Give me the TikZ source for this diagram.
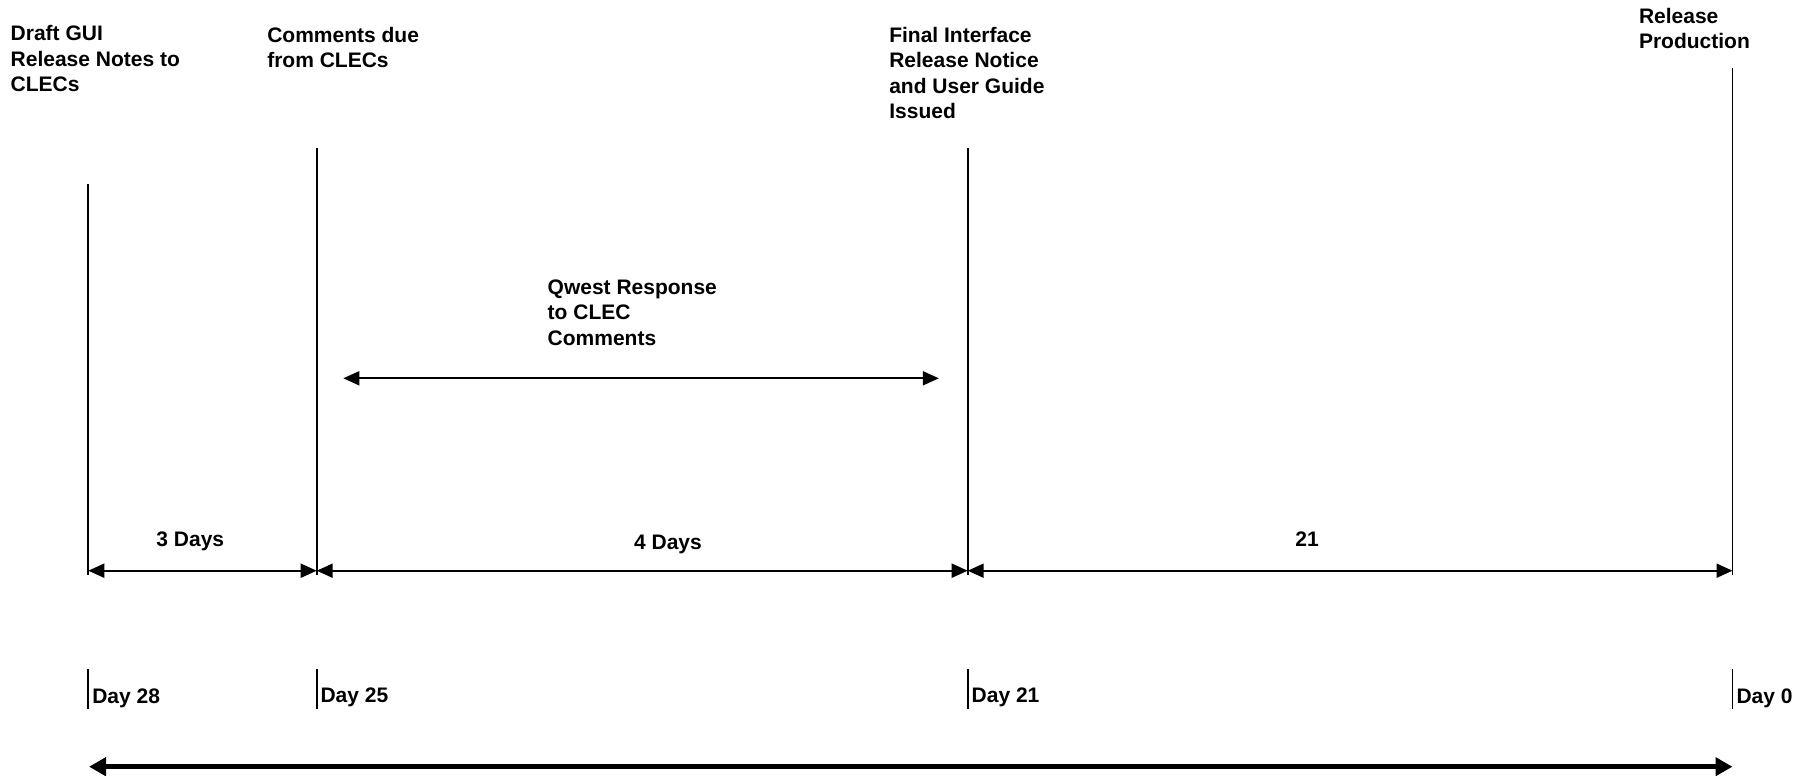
\documentclass[tikz,border=0pt]{standalone}
\usepackage{fontspec}
\setmainfont{Liberation Sans}
\usetikzlibrary{arrows.meta}
\begin{document}
\begin{tikzpicture}[x=1pt,y=-1pt,
  lbl/.style={inner sep=0pt, outer sep=0pt, font=\bfseries\fontsize{21}{25.3}\selectfont, align=left},
  rulestroke/.style={line width=1.9pt, line cap=butt},
  dimarrow/.style={line width=1.9pt, {Triangle[length=16pt,width=14pt]}-{Triangle[length=16pt,width=14pt]}},
  bigarrow/.style={line width=5pt, {Triangle[length=17pt,width=18pt]}-{Triangle[length=17pt,width=18pt]}}
]
\useasboundingbox (0,0) rectangle (1804,776);

% milestone coordinates
\coordinate (t1) at (88.3,184.3);  \coordinate (b1) at (88.3,570.7);  \coordinate (e1) at (88.3,575);
\coordinate (t2) at (316.7,147.7); \coordinate (b2) at (316.7,570.7); \coordinate (e2) at (316.7,575);
\coordinate (t3) at (967.7,147.7); \coordinate (b3) at (967.7,570.7); \coordinate (e3) at (967.7,575);
\coordinate (t4) at (1732.5,68.3); \coordinate (b4) at (1732.5,570.7); \coordinate (e4) at (1732.5,575);

\draw[rulestroke] (t1) -- (e1);
\draw[rulestroke] (t2) -- (e2);
\draw[rulestroke] (t3) -- (e3);
\draw[rulestroke] (t4) -- (e4);

% duration arrows
\draw[dimarrow] (b1) -- (b2);
\draw[dimarrow] (b2) -- (b3);
\draw[dimarrow] (b3) -- (b4);

% Qwest response arrow
\coordinate (q1) at (343.3,378.3);
\coordinate (q2) at (938.8,378.3);
\draw[dimarrow] (q1) -- (q2);

% day ticks
\coordinate (k1a) at (88.3,669); \coordinate (k1b) at (88.3,708.5);
\coordinate (k2a) at (316.7,669); \coordinate (k2b) at (316.7,708.5);
\coordinate (k3a) at (967.7,669); \coordinate (k3b) at (967.7,708.5);
\coordinate (k4a) at (1732.5,669); \coordinate (k4b) at (1732.5,708.5);
\draw[rulestroke] (k1a) -- (k1b);
\draw[rulestroke] (k2a) -- (k2b);
\draw[rulestroke] (k3a) -- (k3b);
\draw[rulestroke] (k4a) -- (k4b);

% bottom timeline
\coordinate (L) at (89,766.7);
\coordinate (R) at (1732.5,766.7);
\draw[bigarrow] (L) -- (R);

% milestone labels
\node[lbl, anchor=north west] (m1) at (10.7,25.7) {Draft GUI\\Release Notes to\\CLECs};
\node[lbl, anchor=north west] (m2) at (267.3,27.3) {Comments due\\from CLECs};
\node[lbl, anchor=north west] (m3) at (889.3,27.3) {Final Interface\\Release Notice\\and User Guide\\Issued};
\node[lbl, anchor=north west] (m4) at (1639,8.3) {Release\\Production};
\node[lbl, anchor=north west] (qr) at (547.7,280) {Qwest Response\\to CLEC\\Comments};

% duration labels
\node[lbl, anchor=base] (d1) at (190.3,546.5) {3 Days};
\node[lbl, anchor=base] (d2) at (668,549) {4 Days};
\node[lbl, anchor=base] (d3) at (1307,546.5) {21};

% day labels
\node[lbl, anchor=base west] (y1) at (92.3,703.3) {Day 28};
\node[lbl, anchor=base west] (y2) at (320.5,702) {Day 25};
\node[lbl, anchor=base west] (y3) at (971.7,702.7) {Day 21};
\node[lbl, anchor=base west] (y4) at (1736.5,703) {Day 0};
\end{tikzpicture}
\end{document}
